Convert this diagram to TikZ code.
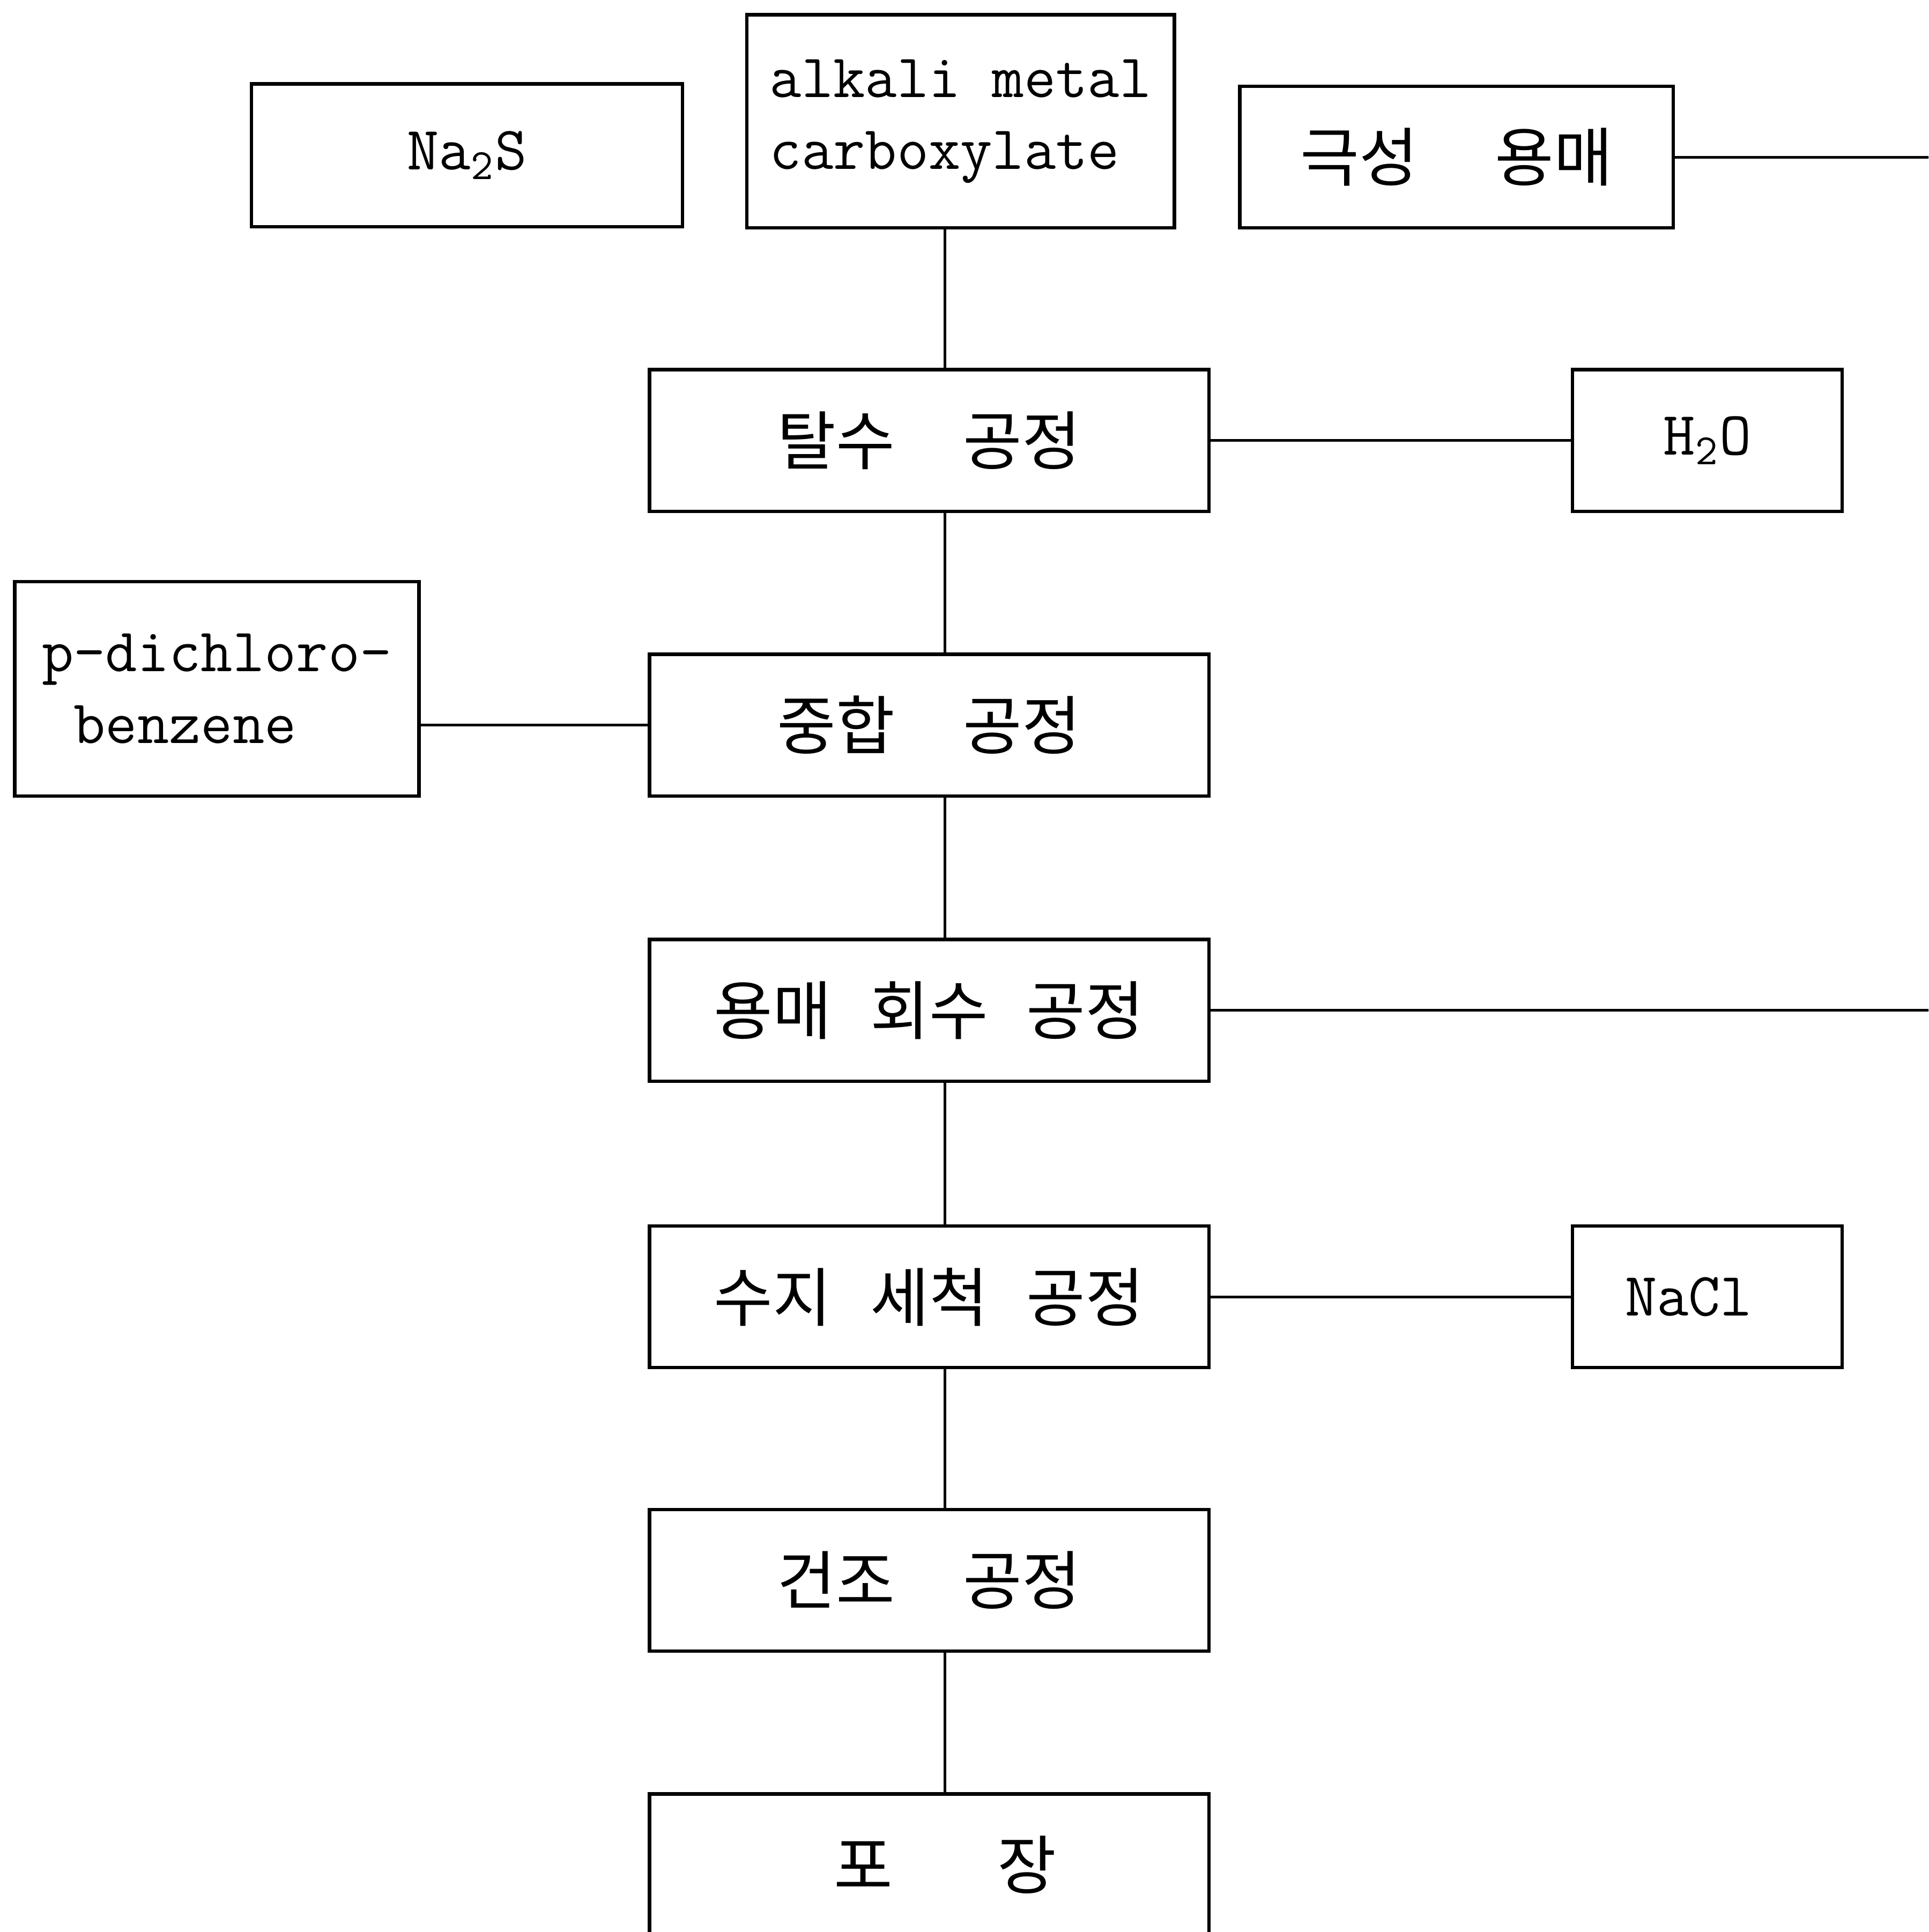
\documentclass[tikz,border=0pt]{standalone}
\usepackage{fontspec}
\newfontfamily\kofont{Noto Sans CJK KR}

\begin{document}
\begin{tikzpicture}[
    x=0.0115016cm, y=-0.0115016cm,
    box/.style={rectangle, draw=black, line width=0.9pt, inner sep=0pt},
    proc/.style={box, minimum width=5.222cm, minimum height=1.323cm,
                 font=\kofont\fontsize{17}{20}\selectfont},
    feed/.style={box, font=\ttfamily\fontsize{16.4}{19}\selectfont},
    link/.style={line width=0.7pt},
]
\useasboundingbox (0,0) rectangle (1565,1568);
\clip (0,0) rectangle (1565,1568);

% raw materials on top
\node[feed, minimum width=4.026cm, minimum height=1.334cm] (na2s) at (379,126) {Na\textsubscript{2}S};
\node[feed, minimum width=3.991cm, minimum height=1.990cm, align=left] (alkali) at (779.5,98.5)
  {alkali metal\\carboxylate};
\node[proc, minimum width=4.049cm] (solvent) at (1182,127.5) {극성\hspace{0.72cm}용매};

% main process line
\node[proc] (dehyd) at (754,357.5) {탈수\hspace{0.64cm}공정};
\node[proc] (poly) at (754,588.5) {중합\hspace{0.64cm}공정};
\node[proc] (recover) at (754,820) {용매\hspace{0.36cm}회수\hspace{0.36cm}공정};
\node[proc] (wash) at (754,1052.5) {수지\hspace{0.36cm}세척\hspace{0.36cm}공정};
\node[proc] (dry) at (754,1282.5) {건조\hspace{0.64cm}공정};
\node[proc] (pack) at (754,1513.5) {\hspace{0.3cm}포\hspace{0.98cm}장};

% side streams
\node[feed, minimum width=2.519cm, minimum height=1.323cm] (water) at (1385.5,357.5) {H\textsubscript{2}O};
\node[feed, minimum width=3.773cm, minimum height=2.001cm, align=left] (pdcb) at (176,559)
  {p-dichloro-\\\hphantom{b}benzene};
\node[feed, minimum width=2.519cm, minimum height=1.323cm] (nacl) at (1385.5,1052.5) {NaCl\kern0.35cm};

\coordinate (spine) at (767,0);
\coordinate (solvout) at (1570,127.5);
\coordinate (recout) at (1570,820);

\draw[link] (alkali.south -| spine) -- (dehyd.north -| spine);
\draw[link] (dehyd.south -| spine) -- (poly.north -| spine);
\draw[link] (poly.south -| spine) -- (recover.north -| spine);
\draw[link] (recover.south -| spine) -- (wash.north -| spine);
\draw[link] (wash.south -| spine) -- (dry.north -| spine);
\draw[link] (dry.south -| spine) -- (pack.north -| spine);

\draw[link] (solvent.east) -- (solvout);
\draw[link] (dehyd.east) -- (water.west);
\draw[link] (poly.west -| pdcb.east) -- (poly.west);
\draw[link] (recover.east) -- (recout);
\draw[link] (wash.east) -- (nacl.west);
\end{tikzpicture}
\end{document}
